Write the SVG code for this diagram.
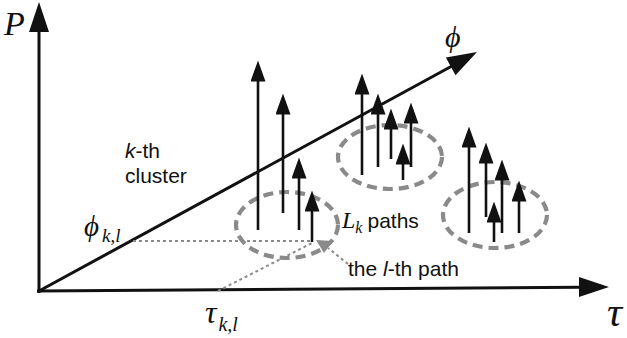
<svg xmlns="http://www.w3.org/2000/svg" width="627" height="338" viewBox="0 0 627 338">
<style>
.ax{stroke:#111;stroke-width:3;fill:none}
.head{fill:#111}
.ray{stroke:#111;stroke-width:2.6;fill:none}
.ell{fill:none;stroke:#8a8a8a;stroke-width:4.2;stroke-dasharray:10 6}
.dot{stroke:#8a8a8a;stroke-width:2;stroke-dasharray:3 3;fill:none}
.math{font-family:"Liberation Serif","DejaVu Serif",serif;font-style:italic;fill:#111}
.lbl{font-family:"Liberation Sans","Open Sans",sans-serif;font-size:21px;fill:#111}
</style>
<defs>
<marker id="ah" viewBox="0 0 21 15" refX="0.5" refY="7.5" markerWidth="21" markerHeight="15" markerUnits="userSpaceOnUse" orient="auto">
<path d="M0,0 L21,7.5 L0,15 z" class="head"/>
</marker>
</defs>
<rect width="627" height="338" fill="#fff"/>
<g id="connectors">
<line class="ax" x1="39" y1="293" x2="39" y2="31"/>
<polygon class="head" points="39,2 29,32 49,32"/>
<line class="ax" x1="37" y1="291" x2="580" y2="287.2"/>
<polygon class="head" points="609,287 579,277 579,297"/>
<line class="ax" x1="39" y1="291" x2="452" y2="66"/>
<polygon class="head" points="477,52 445.9,57.6 455.5,75.2"/>
<line class="dot" x1="133" y1="241" x2="312" y2="241"/>
<line class="dot" x1="218" y1="291" x2="312" y2="243"/>
<line class="dot" x1="348" y1="264" x2="328" y2="248"/>
<polygon points="316,240 333,241 324,253" fill="#8a8a8a"/>
</g>
<g id="cluster1">
<ellipse class="ell" cx="287" cy="225" rx="51" ry="33"/>
<line class="ray" x1="258" y1="230" x2="258" y2="81" marker-end="url(#ah)"/>
<line class="ray" x1="283" y1="213" x2="283" y2="114" marker-end="url(#ah)"/>
<line class="ray" x1="299" y1="230" x2="299" y2="178" marker-end="url(#ah)"/>
<line class="ray" x1="312" y1="242" x2="312" y2="211" marker-end="url(#ah)"/>
</g>
<g id="cluster2">
<ellipse class="ell" cx="390" cy="157" rx="52" ry="32"/>
<line class="ray" x1="362" y1="175" x2="362" y2="94" marker-end="url(#ah)"/>
<line class="ray" x1="378" y1="167" x2="378" y2="114" marker-end="url(#ah)"/>
<line class="ray" x1="391" y1="159" x2="391" y2="129" marker-end="url(#ah)"/>
<line class="ray" x1="411" y1="167" x2="411" y2="123" marker-end="url(#ah)"/>
<line class="ray" x1="403" y1="180" x2="403" y2="164" marker-end="url(#ah)"/>
</g>
<g id="cluster3">
<ellipse class="ell" cx="495" cy="215" rx="52" ry="33"/>
<line class="ray" x1="469" y1="233" x2="469" y2="147" marker-end="url(#ah)"/>
<line class="ray" x1="486" y1="217" x2="486" y2="163" marker-end="url(#ah)"/>
<line class="ray" x1="502" y1="233" x2="502" y2="180" marker-end="url(#ah)"/>
<line class="ray" x1="519" y1="233" x2="519" y2="201" marker-end="url(#ah)"/>
<line class="ray" x1="494" y1="242" x2="494" y2="222" marker-end="url(#ah)"/>
</g>
<g id="labels">
<text class="math" x="4" y="35" font-size="34">P</text>
<text class="math" x="445" y="47" font-size="30">ϕ</text>
<text class="math" x="607" y="326" font-size="42">τ</text>
<text class="math" x="84" y="236" font-size="29">ϕ<tspan font-size="19" dx="3" dy="6">k,l</tspan></text>
<text class="math" x="205" y="323" font-size="32">τ<tspan font-size="20" dx="2" dy="8">k,l</tspan></text>
<text class="lbl" x="125" y="158"><tspan font-style="italic">k</tspan>-th</text>
<text class="lbl" x="125" y="183">cluster</text>
<text x="342" y="228"><tspan class="math" font-size="24">L</tspan><tspan class="math" font-size="16" dy="5">k</tspan><tspan class="lbl" dx="5" dy="-5">paths</tspan></text>
<text class="lbl" x="348" y="276">the <tspan font-style="italic">l</tspan>-th path</text>
</g>
</svg>
